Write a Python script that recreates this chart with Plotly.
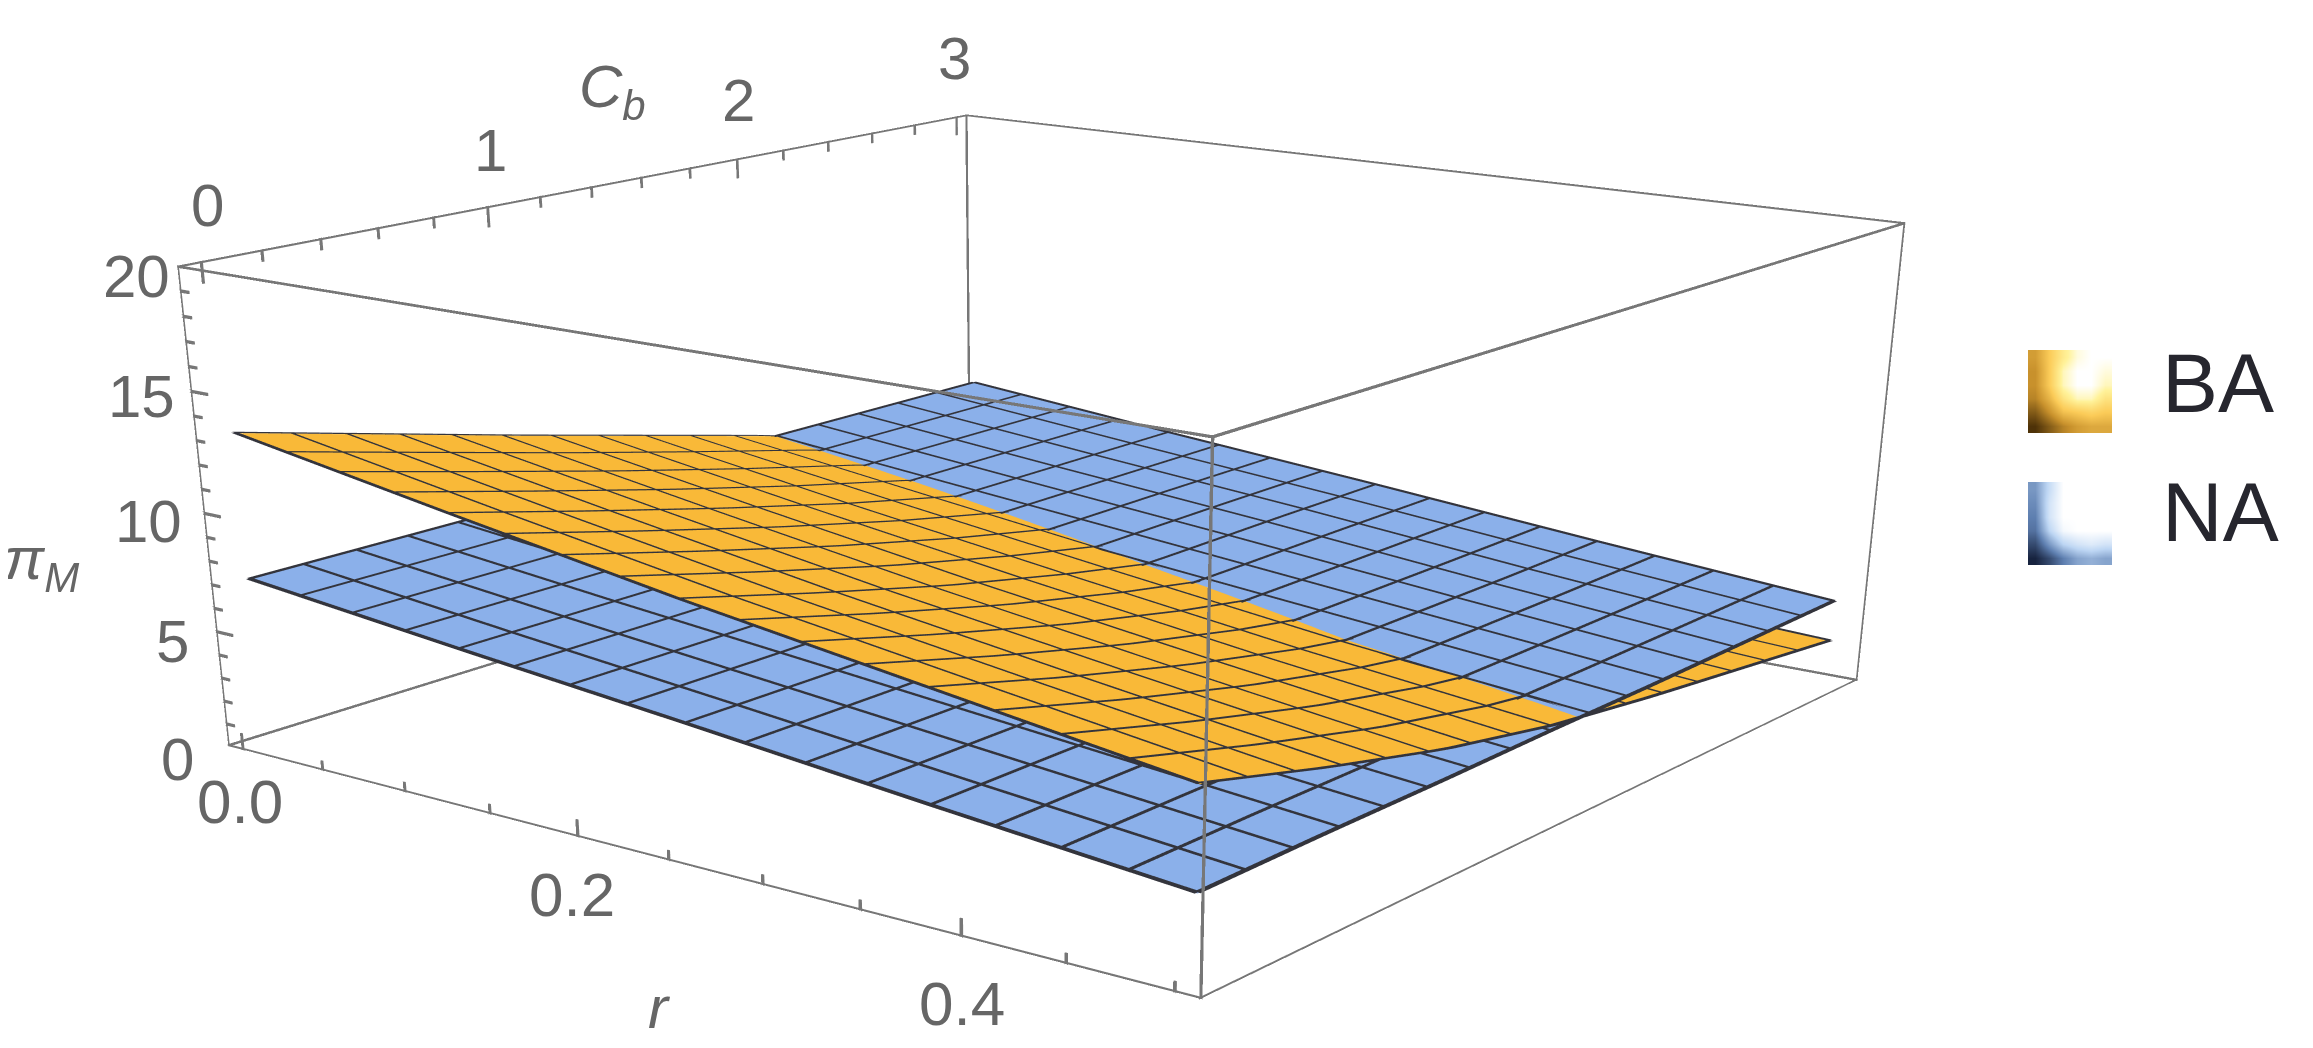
import numpy as np
import plotly.graph_objects as go

# values
r_vals = [0.0, 0.125, 0.25, 0.375, 0.5]
cb_vals = [0.0, 0.5, 1.0, 1.5, 2.0, 2.5, 3.0]

# rows follow r_vals, columns follow cb_vals
pi_ba = [
    [13.2, 11.7, 10.2, 8.75, 7.3, 5.7, 4.1],
    [11.65, 10.15, 8.7, 7.35, 6.15, 4.75, 3.4],
    [10.15, 8.65, 7.25, 6.05, 5.0, 3.85, 2.75],
    [8.8, 7.3, 5.95, 4.8, 3.9, 3.05, 2.25],
    [7.45, 6.0, 4.7, 3.7, 3.0, 2.4, 1.8],
]
pi_na = [
    [7.1, 7.1, 7.1, 7.1, 7.1, 7.1, 7.1],
    [6.15, 6.15, 6.15, 6.15, 6.2, 6.2, 6.2],
    [5.25, 5.25, 5.3, 5.3, 5.3, 5.35, 5.35],
    [4.3, 4.35, 4.35, 4.4, 4.4, 4.4, 4.45],
    [3.4, 3.45, 3.45, 3.5, 3.5, 3.55, 3.6],
]

r_ticks = [0.0, 0.05, 0.1, 0.15, 0.2, 0.25, 0.3, 0.35, 0.4, 0.45, 0.5]
r_major = [0.0, 0.2, 0.4]
cb_ticks = [0.0, 0.2, 0.4, 0.6, 0.8, 1.0, 1.2, 1.4, 1.6, 1.8, 2.0, 2.2, 2.4, 2.6, 2.8, 3.0]
cb_major = [0.0, 1.0, 2.0, 3.0]
z_ticks = list(range(0, 21))
z_major = [0, 5, 10, 15, 20]

# brightness of the two legend swatches, bottom row first
swatch_ba = [
    [0.0, 0.15, 0.3, 0.4, 0.45, 0.45],
    [0.15, 0.35, 0.55, 0.6, 0.65, 0.6],
    [0.3, 0.5, 0.75, 0.9, 0.9, 0.75],
    [0.35, 0.6, 0.9, 1.0, 1.0, 0.9],
    [0.35, 0.6, 0.9, 1.0, 1.0, 0.95],
    [0.4, 0.6, 0.8, 0.95, 1.0, 1.0],
]
swatch_na = [
    [0.0, 0.15, 0.35, 0.5, 0.55, 0.5],
    [0.15, 0.45, 0.7, 0.8, 0.85, 0.8],
    [0.3, 0.7, 0.95, 1.0, 1.0, 1.0],
    [0.35, 0.8, 1.0, 1.0, 1.0, 1.0],
    [0.4, 0.8, 1.0, 1.0, 1.0, 1.0],
    [0.45, 0.75, 1.0, 1.0, 1.0, 1.0],
]

ORANGE = "#F9B938"
BLUE = "#8BB0EA"
MESH = "#33343c"
BOX = "#777777"
TEXT = "#666666"
FONT = "Liberation Sans"
FLAT = dict(ambient=1, diffuse=0, specular=0, roughness=1, fresnel=0)

R_RANGE = [-0.01, 0.512]
CB_RANGE = [-0.08, 3.05]
Z_RANGE = [0, 20]

# the lens of the original is long and plotly's is fixed, so the figure
# runs past the bottom of the window to get the same perspective
W, H = 2297, 3160
OFFSET = 8  # body margin of the page
PRINCIPAL_X = 1045.2


def surface(z, color):
    return go.Surface(
        x=r_vals, y=cb_vals, z=np.array(z).T,
        colorscale=[[0, color], [1, color]], showscale=False,
        lighting=FLAT, hoverinfo="skip",
    )


def surface_height(z, r, cb):
    # height of the table at a point between its rows and columns
    row = [np.interp(cb, cb_vals, line) for line in z]
    return np.interp(r, r_vals, row)


def mesh_strips(z, n_cells=16, lift=0.04):
    # 3D line widths are uneven here, so the mesh is made of thin strips lying on the surface
    xs, ys, zs, ii, jj, kk = [], [], [], [], [], []
    samples = 33

    def add(r_a, cb_a, r_b, cb_b):
        n = len(xs)
        for t in np.linspace(0, 1, samples):
            for side in (0, 1):
                ra = r_a[side] + (r_b[side] - r_a[side]) * t
                ca = cb_a[side] + (cb_b[side] - cb_a[side]) * t
                xs.append(ra)
                ys.append(ca)
                zs.append(surface_height(z, min(max(ra, 0), 0.5), min(max(ca, 0), 3)) + lift)
        for s in range(samples - 1):
            a = n + 2 * s
            ii.extend([a, a + 1])
            jj.extend([a + 1, a + 3])
            kk.extend([a + 2, a + 2])

    for k in range(n_cells + 1):
        r0 = 0.5 * k / n_cells
        w = 0.002 * (1.4 if k in (0, n_cells) else 1)
        add((r0 - w / 2, r0 + w / 2), (0, 0), (r0 - w / 2, r0 + w / 2), (3, 3))
        c0 = 3 * k / n_cells
        w = 0.014 * (1.4 if k in (0, n_cells) else 1)
        add((0, 0), (c0 - w / 2, c0 + w / 2), (0.5, 0.5), (c0 - w / 2, c0 + w / 2))
    return go.Mesh3d(x=xs, y=ys, z=zs, i=ii, j=jj, k=kk, color=MESH, flatshading=True,
                     lighting=FLAT, hoverinfo="skip")


def bars(segments, scale=1.0):
    # box edges and ticks as thin square bars
    half = np.array([0.0006, 0.0036, 0.06]) * scale
    xs, ys, zs, ii, jj, kk = [], [], [], [], [], []
    for a, b in segments:
        a, b = np.array(a, float), np.array(b, float)
        axis = int(np.argmax(np.abs(b - a) / np.array([0.5, 3.0, 20.0])))
        u, v = [np.eye(3)[i] * half[i] for i in range(3) if i != axis]
        n = len(xs)
        for end in (a, b):
            for su, sv in ((-1, -1), (1, -1), (1, 1), (-1, 1)):
                x, y, z = end + su * u + sv * v
                xs.append(x)
                ys.append(y)
                zs.append(z)
        for q in range(4):
            p0, p1 = n + q, n + (q + 1) % 4
            ii.extend([p0, p1])
            jj.extend([p1, p1 + 4])
            kk.extend([p0 + 4, p0 + 4])
    return go.Mesh3d(x=xs, y=ys, z=zs, i=ii, j=jj, k=kk, color=BOX, flatshading=True,
                     lighting=FLAT, hoverinfo="skip")


x0, x1 = R_RANGE
y0, y1 = CB_RANGE
z0, z1 = Z_RANGE

box_edges = []
for (ax, ay), (bx, by) in [((x0, y0), (x1, y0)), ((x1, y0), (x1, y1)), ((x1, y1), (x0, y1)), ((x0, y1), (x0, y0))]:
    box_edges.append(((ax, ay, z0), (bx, by, z0)))
    box_edges.append(((ax, ay, z1), (bx, by, z1)))
    box_edges.append(((ax, ay, z0), (ax, ay, z1)))

tick_marks = []
for t in r_ticks:
    tick_marks.append(((t, y0, z0), (t, y0, 0.75 if t in r_major else 0.45)))
for t in cb_ticks:
    tick_marks.append(((x0, t, z1), (x0, t, 19.1 if t in cb_major else 19.5)))
for t in z_ticks:
    tick_marks.append(((x0, y0, t), (x0 + (0.011 if t in z_major else 0.006), y0, t)))

fig = go.Figure()
fig.add_trace(surface(pi_na, BLUE))
fig.add_trace(surface(pi_ba, ORANGE))
fig.add_trace(mesh_strips(pi_na))
fig.add_trace(mesh_strips(pi_ba))
fig.add_trace(bars(box_edges, 1.4))
fig.add_trace(bars(tick_marks, 1.0))

# legend swatches
fig.add_trace(go.Heatmap(z=swatch_ba, xaxis="x", yaxis="y", zsmooth="best", showscale=False, hoverinfo="skip",
                         zmin=0, zmax=1,
                         colorscale=[[0, "#4e3208"], [0.35, "#c8912c"], [0.6, "#fbcb58"], [0.85, "#fff29a"], [1, "#ffffff"]]))
fig.add_trace(go.Heatmap(z=swatch_na, xaxis="x2", yaxis="y2", zsmooth="best", showscale=False, hoverinfo="skip",
                         zmin=0, zmax=1,
                         colorscale=[[0, "#17233f"], [0.35, "#5e7fb0"], [0.7, "#bcd5f3"], [1, "#ffffff"]]))


def px_x(v):
    return (v - OFFSET) / W


def px_y(v):
    return 1 - (v - OFFSET) / H


def note(text, x, y, size=60, color=TEXT, anchor="center"):
    return dict(x=px_x(x), y=px_y(y), xref="paper", yref="paper", text=text, showarrow=False,
                xanchor=anchor, yanchor="middle", font=dict(family=FONT, size=size, color=color))


notes = [
    note("20", 172, 276, anchor="right"),
    note("15", 177, 397, anchor="right"),
    note("10", 184, 522, anchor="right"),
    note("5", 191, 642, anchor="right"),
    note("0", 196, 760, anchor="right"),
    note("0.0", 240, 801, size=62),
    note("0.2", 572, 895, size=62),
    note("0.4", 962, 1003, size=62),
    note("0", 207, 205),
    note("1", 490, 150),
    note("2", 738, 100),
    note("3", 954, 59),
    note("<i>C</i><sub><i>b</i></sub>", 612, 91),
    note("<i>r</i>", 659, 1007),
    note("<i>π</i><sub><i>M</i></sub>", 41, 563),
    note("BA", 2160, 383, size=84, color="#26262e", anchor="left"),
    note("NA", 2160, 512, size=84, color="#26262e", anchor="left"),
]

hidden = dict(visible=False, showgrid=False, zeroline=False)
fig.update_layout(
    width=W, height=H, autosize=False,
    margin=dict(l=0, r=0, t=0, b=0),
    paper_bgcolor="white", plot_bgcolor="white",
    showlegend=False,
    scene=dict(
        domain=dict(x=[0, 2 * (PRINCIPAL_X - OFFSET) / W], y=[0, 1]),
        xaxis=dict(range=R_RANGE, **hidden),
        yaxis=dict(range=CB_RANGE, **hidden),
        zaxis=dict(range=Z_RANGE, **hidden),
        aspectmode="manual",
        aspectratio=dict(x=1, y=1.0082, z=0.3874),
        camera=dict(
            eye=dict(x=1.9478, y=-2.5898, z=0.7472),
            center=dict(x=0.2123, y=-0.3064, z=-0.8501),
            up=dict(x=0, y=0, z=1),
        ),
    ),
    xaxis=dict(domain=[px_x(2028), px_x(2112)], **hidden),
    yaxis=dict(domain=[px_y(433), px_y(350)], **hidden),
    xaxis2=dict(domain=[px_x(2028), px_x(2112)], anchor="y2", **hidden),
    yaxis2=dict(domain=[px_y(565), px_y(482)], anchor="x2", **hidden),
    annotations=notes,
)

fig.write_html("out.html")
